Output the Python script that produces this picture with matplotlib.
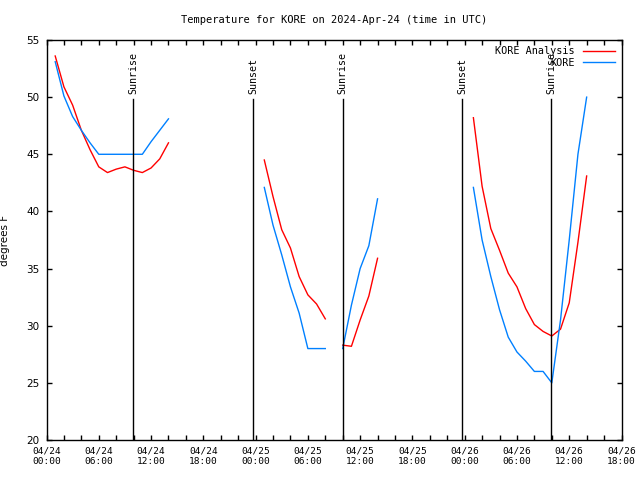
import numpy as np
import matplotlib.pyplot as plt

# hours since 2024-04-24 00:00 UTC
hrs_a1 = [1, 2, 3, 4, 5, 6, 7, 8, 9, 10, 11, 12, 13, 14]
ana_1 = [53.6, 50.9, 49.3, 47.1, 45.4, 43.9, 43.4, 43.7, 43.9, 43.6, 43.4, 43.8, 44.6, 46.0]
obs_1 = [53.1, 50.1, 48.3, 47.1, 46.0, 45.0, 45.0, 45.0, 45.0, 45.0, 45.0, 46.1, 47.1, 48.1]

hrs_a2 = [25, 26, 27, 28, 29, 30, 31, 32]
ana_2 = [44.5, 41.3, 38.4, 36.8, 34.3, 32.7, 31.9, 30.6]
obs_2 = [42.1, 38.8, 36.2, 33.4, 31.1, 28.0, 28.0, 28.0]

hrs_a3 = [34, 35, 36, 37, 38]
ana_3 = [28.3, 28.2, 30.5, 32.6, 35.9]
obs_3 = [28.0, 31.8, 35.0, 37.0, 41.1]

hrs_a4 = [49, 50, 51, 52, 53, 54, 55, 56, 57, 58, 59, 60, 61, 62]
ana_4 = [48.2, 42.2, 38.5, 36.6, 34.6, 33.4, 31.5, 30.1, 29.5, 29.1, 29.7, 32.0, 37.3, 43.1]
obs_4 = [42.1, 37.5, 34.3, 31.4, 29.0, 27.7, 26.9, 26.0, 26.0, 25.0, 30.5, 37.5, 45.0, 50.0]

sun_hrs = [9.95, 23.7, 34.0, 47.7, 57.95]
sun_txt = ['Sunrise', 'Sunset', 'Sunrise', 'Sunset', 'Sunrise']

tick_hrs = list(range(0, 67, 6))
tick_lbl = ['04/24\n00:00', '04/24\n06:00', '04/24\n12:00', '04/24\n18:00',
            '04/25\n00:00', '04/25\n06:00', '04/25\n12:00', '04/25\n18:00',
            '04/26\n00:00', '04/26\n06:00', '04/26\n12:00', '04/26\n18:00']

mono = 'DejaVu Sans Mono'
red = '#ff0000'
blue = '#0080ff'

fig = plt.figure(figsize=(6.4, 4.8), dpi=100)
ax = fig.add_axes([46.5 / 640, 40 / 480, 575 / 640, 400 / 480])

segs = [(hrs_a1, ana_1, obs_1), (hrs_a2, ana_2, obs_2),
        (hrs_a3, ana_3, obs_3), (hrs_a4, ana_4, obs_4)]
for i, (h, a, o) in enumerate(segs):
    ax.plot(h, a, color=red, lw=1, label='KORE Analysis' if i == 0 else None)
    ax.plot(h, o, color=blue, lw=1, label='KORE' if i == 0 else None)

for h, t in zip(sun_hrs, sun_txt):
    ax.plot([h, h], [20, 49.8], color='black', lw=1)
    ax.text(h, 50.3, t, rotation=90, ha='center', va='bottom',
            family=mono, fontsize=7.2)

ax.set_xlim(0, 66)
ax.set_ylim(20, 55)
ax.set_xticks(tick_hrs)
ax.set_xticklabels(tick_lbl, family=mono, fontsize=6.8)
ax.set_xticks(np.arange(0, 67, 2), minor=True)
ax.set_yticks(range(20, 56, 5))
ax.set_yticklabels([str(v) for v in range(20, 56, 5)], fontsize=7.5)
ax.tick_params(direction='in', which='both', top=True, right=True,
               length=3.5, width=1, pad=5)
for s in ax.spines.values():
    s.set_linewidth(1)

ax.set_ylabel('degrees F', fontsize=7.5)
ax.yaxis.set_label_coords(-0.064, 0.5)
ax.set_title('Temperature for KORE on 2024-Apr-24 (time in UTC)',
             family=mono, fontsize=7.5, pad=12)

leg = ax.legend(loc='upper right', frameon=False, markerfirst=False,
                prop={'family': mono, 'size': 7.3}, handlelength=3.2,
                handletextpad=0.8, borderaxespad=0.2, labelspacing=0.15)
for t in leg.get_texts():
    t.set_ha('right')

fig.savefig('out.png', dpi=100)
